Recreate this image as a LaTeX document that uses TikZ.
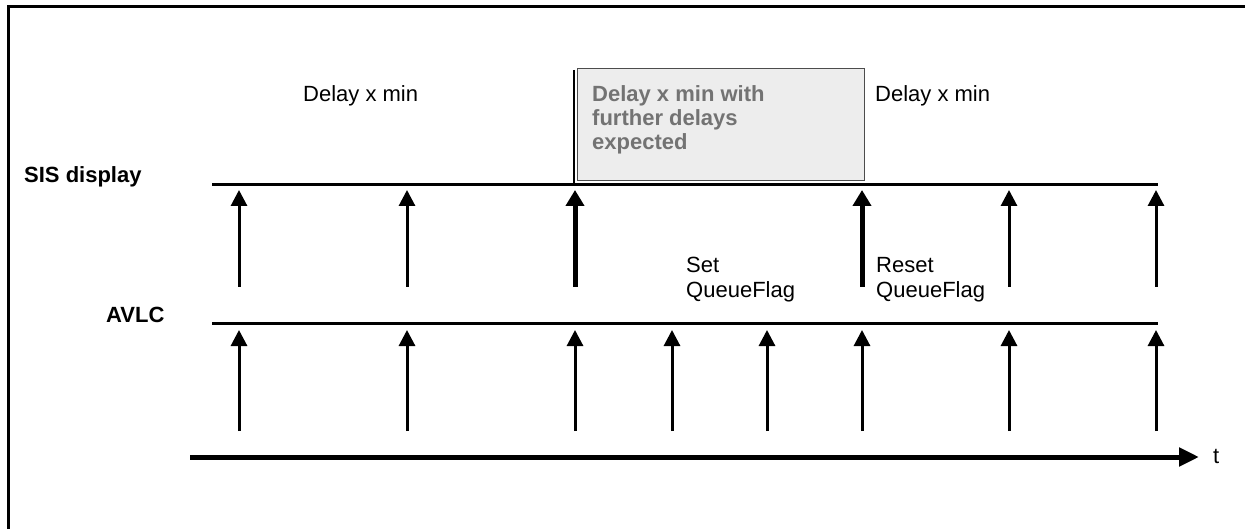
\documentclass[tikz,border=0pt]{standalone}
\usepackage{fontspec}
\setmainfont{Liberation Sans}
\usetikzlibrary{arrows.meta}
\begin{document}
\begin{tikzpicture}[x=1pt,y=-1pt,
  lbl/.style={font=\fontsize{22}{25}\selectfont, inner sep=0pt, align=left},
  blbl/.style={lbl, font=\fontsize{22}{25}\selectfont\bfseries},
  tline/.style={line width=3pt},
  ev/.style={line width=3pt, -{Triangle[width=16pt,length=16pt]}},
  evthick/.style={line width=5pt, -{Triangle[width=18pt,length=16pt]}},
  grayblock/.style={draw=black!70, line width=1.2pt, fill=black!7}]
\useasboundingbox (0,0) rectangle (1245,529);
% outer frame (continues past the right and bottom edges)
\draw[line width=3pt] (8,560) -- (8,7) -- (1270,7);
% gray box
\node[grayblock, anchor=north west, minimum width=287pt, minimum height=112pt] (box) at (577,68) {};
\coordinate (boxl) at (574,70);
% timelines
\coordinate (sisL) at (212,185);  \coordinate (sisR) at (1158,185);
\coordinate (avL) at (212,324);   \coordinate (avR) at (1158,324);
\draw[tline] (sisL) -- (sisR);
\draw[tline] (avL) -- (avR);
\coordinate (sisbox) at (574,185);
\draw[line width=1.2pt] (boxl) -- (sisbox);
% time axis
\coordinate (t0) at (190,457); \coordinate (t1) at (1199,457);
\draw[line width=5pt, -{Triangle[width=18pt,length=20pt]}] (t0) -- (t1);
\node[lbl, anchor=base west] (t) at (1213,463) {t};
% upper arrows
\foreach \x/\n in {239/a,407/b,1009/e,1156/f}{
  \coordinate (us\n) at (\x,287); \coordinate (ue\n) at (\x,190);
  \draw[ev] (us\n) -- (ue\n);}
\foreach \x/\n in {575/c,862/d}{
  \coordinate (us\n) at (\x,287); \coordinate (ue\n) at (\x,190);
  \draw[evthick] (us\n) -- (ue\n);}
% lower arrows
\foreach \x/\n in {239/a,407/b,575/c,672/g,767/h,862/d,1009/e,1156/f}{
  \coordinate (ls\n) at (\x,431); \coordinate (le\n) at (\x,330);
  \draw[ev] (ls\n) -- (le\n);}
% labels
\node[blbl, anchor=base west] (sis) at (24,183) {SIS display};
\node[blbl, anchor=base west] (avlc) at (106,323) {AVLC};
\node[lbl, anchor=base west] (d1) at (303,102) {Delay x min};
\node[lbl, anchor=base west] (d2) at (875,102) {Delay x min};
\node[lbl, anchor=north west, text=black!55, font=\fontsize{22}{24}\selectfont\bfseries] (d3) at (592,85) {Delay x min with\\further delays\\expected};
\node[lbl, anchor=north west] (set) at (686,257) {Set\\QueueFlag};
\node[lbl, anchor=north west] (reset) at (876,257) {Reset\\QueueFlag};
\end{tikzpicture}
\end{document}
